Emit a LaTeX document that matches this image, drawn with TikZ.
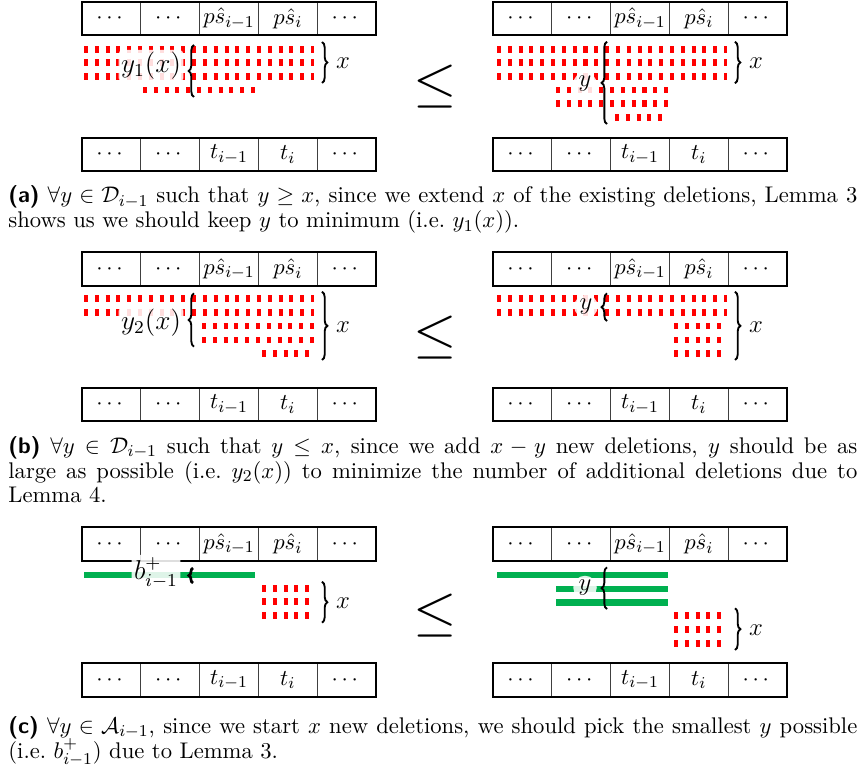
\documentclass[tikz,border=0pt]{standalone}
\usepackage{amsmath,amssymb}
\usepackage{graphicx}
\usetikzlibrary{decorations.pathreplacing}
\definecolor{delred}{RGB}{255,0,0}
\definecolor{anchgreen}{RGB}{0,176,80}
\tikzset{
  cellbox/.style={draw=black!75, line width=0.4pt, minimum width=1cm, minimum height=16.2pt, inner sep=0pt, outer sep=0pt, font=\fontsize{10.95}{13}\selectfont},
  rowframe/.style={draw=black, line width=0.8pt},
  dels/.style={draw=delred, line width=3.2pt, dash pattern=on 1.94pt off 3.29pt},
  anch/.style={draw=anchgreen, line width=3.3pt},
  brc/.style={decorate, decoration={brace, amplitude=2.6pt}, line width=0.9pt},
  lbl/.style={fill=white, fill opacity=0.87, text opacity=1, inner sep=1.2pt, rounded corners=2pt, font=\large},
  lblc/.style={lbl, circle, inner sep=0.6pt},
  xlbl/.style={inner sep=0pt, font=\large},
  leqsign/.style={inner sep=0pt},
  capline/.style={anchor=base west, inner sep=0pt, font=\fontsize{10.95}{12.1}\selectfont},
}
\newcommand{\cellrow}[4]{%
  \foreach \ct [count=\ck] in {#4} {
    \node[cellbox] (#1-\ck) at ({#2+58.8*\ck-29.4},#3) {$\ct$};
  }
  \draw[rowframe] (#1-1.north west) rectangle (#1-5.south east);
}
\newcommand{\bigleq}{\scalebox{2.7}{$\leq$}}
\newcommand{\biglbl}[1]{\scalebox{1.1}{$#1$}}
\begin{document}
\begin{tikzpicture}[x=0.4838pt,y=-0.4838pt]
\useasboundingbox (0,0) rectangle (861,771);
% ---------- boxes ----------
\cellrow{aLT}{82}{18.5}{\cdots,\cdots,p\hat{s}_{i-1},p\hat{s}_i,\cdots}
\cellrow{aLB}{82}{154.5}{\cdots,\cdots,t_{i-1},t_i,\cdots}
\cellrow{aRT}{493}{18.5}{\cdots,\cdots,p\hat{s}_{i-1},p\hat{s}_i,\cdots}
\cellrow{aRB}{493}{154.5}{\cdots,\cdots,t_{i-1},t_i,\cdots}
\cellrow{bLT}{82}{269}{\cdots,\cdots,p\hat{s}_{i-1},p\hat{s}_i,\cdots}
\cellrow{bLB}{82}{404.5}{\cdots,\cdots,t_{i-1},t_i,\cdots}
\cellrow{bRT}{493}{269}{\cdots,\cdots,p\hat{s}_{i-1},p\hat{s}_i,\cdots}
\cellrow{bRB}{493}{404.5}{\cdots,\cdots,t_{i-1},t_i,\cdots}
\cellrow{cLT}{82}{544}{\cdots,\cdots,p\hat{s}_{i-1},p\hat{s}_i,\cdots}
\cellrow{cLB}{82}{680}{\cdots,\cdots,t_{i-1},t_i,\cdots}
\cellrow{cRT}{493}{544}{\cdots,\cdots,p\hat{s}_{i-1},p\hat{s}_i,\cdots}
\cellrow{cRB}{493}{680}{\cdots,\cdots,t_{i-1},t_i,\cdots}
% ---------- (a) deletions ----------
\draw[dels] (84,49.3) -- (314,49.3);
\draw[dels] (84,62.8) -- (314,62.8);
\draw[dels] (84,76.7) -- (314,76.7);
\draw[dels] (143,90) -- (256,90);
\draw[dels] (497,49.3) -- (727,49.3);
\draw[dels] (497,62.8) -- (727,62.8);
\draw[dels] (497,76.7) -- (727,76.7);
\draw[dels] (556,90) -- (669,90);
\draw[dels] (556,103.3) -- (669,103.3);
\draw[dels] (615,117.3) -- (664,117.3);
% ---------- (b) deletions ----------
\draw[dels] (84,298.3) -- (314,298.3);
\draw[dels] (84,312.7) -- (314,312.7);
\draw[dels] (202,326) -- (314,326);
\draw[dels] (202,340) -- (314,340);
\draw[dels] (262,353.3) -- (311,353.3);
\draw[dels] (497,298.3) -- (727,298.3);
\draw[dels] (497,312.7) -- (727,312.7);
\draw[dels] (674,326) -- (722,326);
\draw[dels] (674,340) -- (722,340);
\draw[dels] (674,353.3) -- (722,353.3);
% ---------- (c) anchors and deletions ----------
\draw[anch] (84,575) -- (255,575);
\draw[dels] (262,588.3) -- (310,588.3);
\draw[dels] (262,601.7) -- (310,601.7);
\draw[dels] (262,615.7) -- (310,615.7);
\draw[anch] (497,575) -- (668,575);
\draw[anch] (556,589) -- (668,589);
\draw[anch] (556,602.3) -- (668,602.3);
\draw[dels] (674,615.7) -- (722,615.7);
\draw[dels] (674,629.3) -- (722,629.3);
\draw[dels] (674,643.3) -- (722,643.3);
% ---------- labels ----------
\node[lbl] (ya1) at (151,66) {\biglbl{y_1(x)}};
\node[lblc] (ya2) at (585,84) {$y$};
\node[lbl] (yb1) at (151,323) {\biglbl{y_2(x)}};
\node[lblc] (yb2) at (586,306.5) {$y$};
\node[lbl] (yc1) at (156,573) {\biglbl{b^+_{i-1}}};
\node[lblc] (yc2) at (585,587.5) {$y$};
\node[xlbl] (xa1) at (343,63) {$x$};
\node[xlbl] (xa2) at (756,63) {$x$};
\node[xlbl] (xb1) at (343,327) {$x$};
\node[xlbl] (xb2) at (756,327) {$x$};
\node[xlbl] (xc1) at (343,603) {$x$};
\node[xlbl] (xc2) at (756,630) {$x$};
% ---------- braces ----------
\draw[brc] (194,97) -- (194,45);
\draw[brc] (322,42) -- (322,83);
\draw[brc] (607,124) -- (607,41.7);
\draw[brc] (735,41.7) -- (735,83.3);
\draw[brc] (194,346.7) -- (194,293.3);
\draw[brc] (322,291.7) -- (322,360);
\draw[brc] (607,321) -- (607,293.3);
\draw[brc] (735,291.7) -- (735,360);
\draw[brc, line width=1.3pt, decoration={amplitude=2pt}] (193,583) -- (193,568);
\draw[brc] (322,581.7) -- (322,622.7);
\draw[brc] (607,609) -- (607,567.3);
\draw[brc] (735,608.3) -- (735,650);
% ---------- leq ----------
\node[leqsign] (lqa) at (435,86.5) {\bigleq};
\node[leqsign] (lqb) at (435,337.5) {\bigleq};
\node[leqsign] (lqc) at (435,616) {\bigleq};
% ---------- captions ----------
\node[capline] (capa1) at (8,203) {\makebox[410.7pt][s]{{\sffamily\bfseries (a)} $\forall y \in \mathcal{D}_{i-1}$ such that $y \geq x$, since we extend $x$ of the existing deletions, Lemma 3}};
\node[capline] (capa2) at (8,228) {shows us we should keep $y$ to minimum (i.e.\ $y_1(x)$).};
\node[capline] (capb1) at (8,453) {\makebox[410.7pt][s]{{\sffamily\bfseries (b)} $\forall y \in \mathcal{D}_{i-1}$ such that $y \leq x$, since we add $x-y$ new deletions, $y$ should be as}};
\node[capline] (capb2) at (8,478) {\makebox[410.7pt][s]{large as possible (i.e.\ $y_2(x)$) to minimize the number of additional deletions due to}};
\node[capline] (capb3) at (8,502.5) {Lemma 4.};
\node[capline] (capc1) at (8,733) {\makebox[410.7pt][s]{{\sffamily\bfseries (c)} $\forall y \in \mathcal{A}_{i-1}$, since we start $x$ new deletions, we should pick the smallest $y$ possible}};
\node[capline] (capc2) at (8,758) {(i.e.\ $b^+_{i-1}$) due to Lemma 3.};
\end{tikzpicture}
\end{document}
